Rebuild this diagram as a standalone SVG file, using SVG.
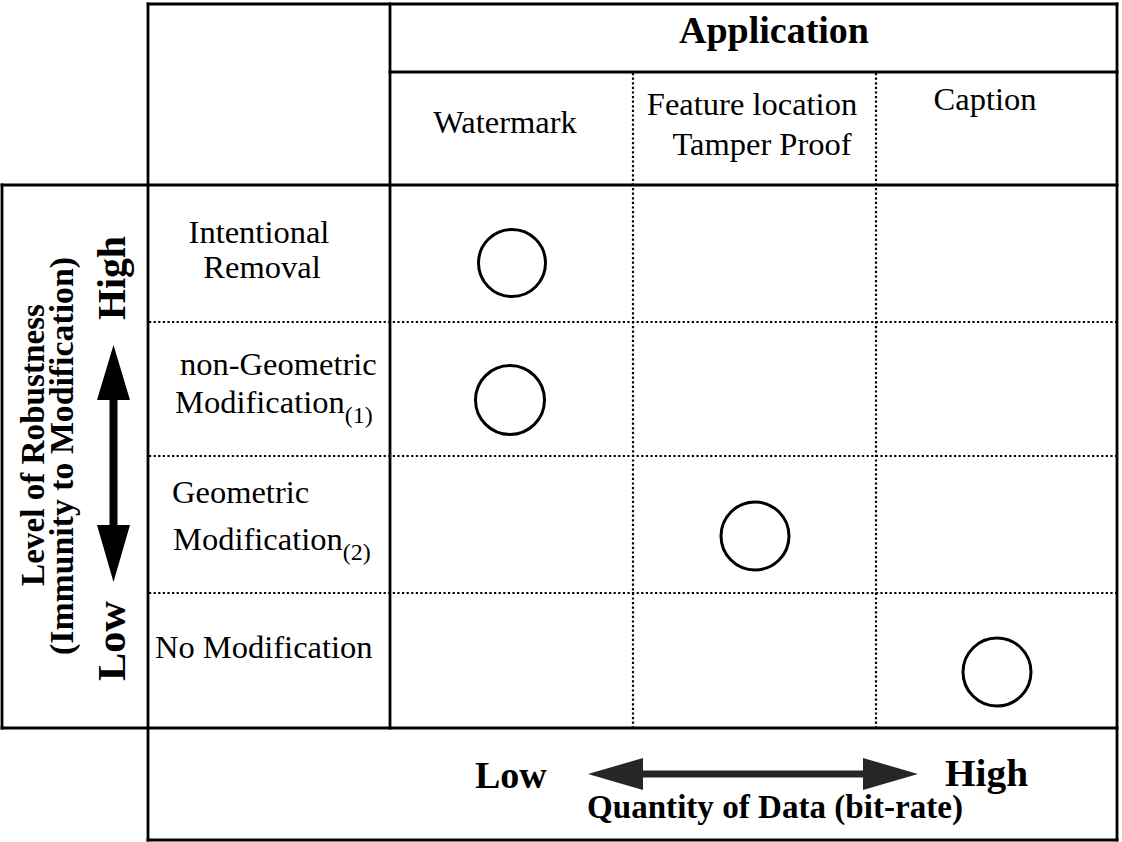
<svg xmlns="http://www.w3.org/2000/svg" width="1122" height="842" viewBox="0 0 1122 842">
  <style>
    .frame { stroke: #000; stroke-width: 2.8; fill: none; stroke-linecap: square; }
    .dots { stroke: #000; stroke-width: 2.2; fill: none; stroke-dasharray: 2.2 2.4; }
    .mark { stroke: #000; stroke-width: 3; fill: none; }
    .lbl { font-family: "Liberation Serif", "Times New Roman", serif; font-size: 32.5px; fill: #000; }
    .sub { font-size: 24px; }
    .bold { font-family: "Liberation Serif", "Times New Roman", serif; font-weight: bold; fill: #000; }
    .mid { text-anchor: middle; }
  </style>

  <rect width="1122" height="842" fill="#fff"/>

  <!-- table frame -->
  <g id="grid">
    <line class="frame" x1="148" y1="4" x2="1117" y2="4"/>
    <line class="frame" x1="148" y1="4" x2="148" y2="840"/>
    <line class="frame" x1="1117" y1="4" x2="1117" y2="840"/>
    <line class="frame" x1="148" y1="840" x2="1117" y2="840"/>
    <line class="frame" x1="2" y1="185" x2="1117" y2="185"/>
    <line class="frame" x1="2" y1="728" x2="1117" y2="728"/>
    <line class="frame" x1="2" y1="185" x2="2" y2="728"/>
    <line class="frame" x1="390" y1="4" x2="390" y2="728"/>
    <line class="frame" x1="390" y1="72" x2="1117" y2="72"/>
    <!-- dotted cell dividers -->
    <line class="dots" x1="633" y1="73" x2="633" y2="727"/>
    <line class="dots" x1="876" y1="73" x2="876" y2="727"/>
    <line class="dots" x1="149" y1="322" x2="1116" y2="322"/>
    <line class="dots" x1="149" y1="456" x2="1116" y2="456"/>
    <line class="dots" x1="149" y1="593" x2="1116" y2="593"/>
  </g>

  <!-- column headers -->
  <g id="header-application">
    <text class="bold mid" x="774" y="43" font-size="38">Application</text>
  </g>
  <g id="col-watermark">
    <text class="lbl mid" x="505" y="133">Watermark</text>
  </g>
  <g id="col-feature">
    <text class="lbl mid" x="752" y="115">Feature location</text>
    <text class="lbl mid" x="762" y="155">Tamper Proof</text>
  </g>
  <g id="col-caption">
    <text class="lbl mid" x="985" y="110">Caption</text>
  </g>

  <!-- row headers -->
  <g id="row-intentional">
    <text class="lbl mid" x="259" y="243">Intentional</text>
    <text class="lbl mid" x="262" y="278">Removal</text>
  </g>
  <g id="row-nongeometric">
    <text class="lbl" x="180" y="375">non-Geometric</text>
    <text class="lbl" x="175" y="413">Modification<tspan class="sub" dy="10">(1)</tspan></text>
  </g>
  <g id="row-geometric">
    <text class="lbl" x="172" y="503">Geometric</text>
    <text class="lbl" x="173" y="550">Modification<tspan class="sub" dy="10">(2)</tspan></text>
  </g>
  <g id="row-none">
    <text class="lbl" x="155" y="658">No Modification</text>
  </g>

  <!-- marks -->
  <g id="mark-watermark-intentional"><circle class="mark" cx="512" cy="263" r="33.5"/></g>
  <g id="mark-watermark-nongeometric"><circle class="mark" cx="510" cy="400" r="34.5"/></g>
  <g id="mark-feature-geometric"><circle class="mark" cx="755" cy="536" r="34"/></g>
  <g id="mark-caption-none"><circle class="mark" cx="997" cy="672" r="34"/></g>

  <!-- vertical axis -->
  <g id="axis-robustness">
    <text class="bold mid" font-size="33" transform="translate(44,445) rotate(-90)" textLength="282" lengthAdjust="spacingAndGlyphs">Level of Robustness</text>
    <text class="bold mid" font-size="33" transform="translate(73,456) rotate(-90)" textLength="398" lengthAdjust="spacingAndGlyphs">(Immunity to Modification)</text>
    <text class="bold mid" font-size="39" transform="translate(125,278) rotate(-90)" textLength="84" lengthAdjust="spacingAndGlyphs">High</text>
    <text class="bold mid" font-size="39" transform="translate(125,641) rotate(-90)" textLength="80" lengthAdjust="spacingAndGlyphs">Low</text>
  </g>

  <!-- horizontal axis -->
  <g id="axis-quantity">
    <text class="bold" x="475" y="788" font-size="38">Low</text>
    <text class="bold" x="945" y="786" font-size="38" textLength="83" lengthAdjust="spacingAndGlyphs">High</text>
    <text class="bold mid" x="775" y="818" font-size="33" textLength="376" lengthAdjust="spacingAndGlyphs">Quantity of Data (bit-rate)</text>
  </g>

  <!-- double-headed arrows -->
  <g id="connectors">
    <polygon fill="#000" points="113.5,345 130,400 117.5,400 117.5,525 130,525 113.5,582 97,525 109.5,525 109.5,400 97,400"/>
    <polygon fill="#262626" points="588,774 643,758 643,770.5 863,770.5 863,758 918,774 863,790 863,777.5 643,777.5 643,790"/>
  </g>
</svg>
